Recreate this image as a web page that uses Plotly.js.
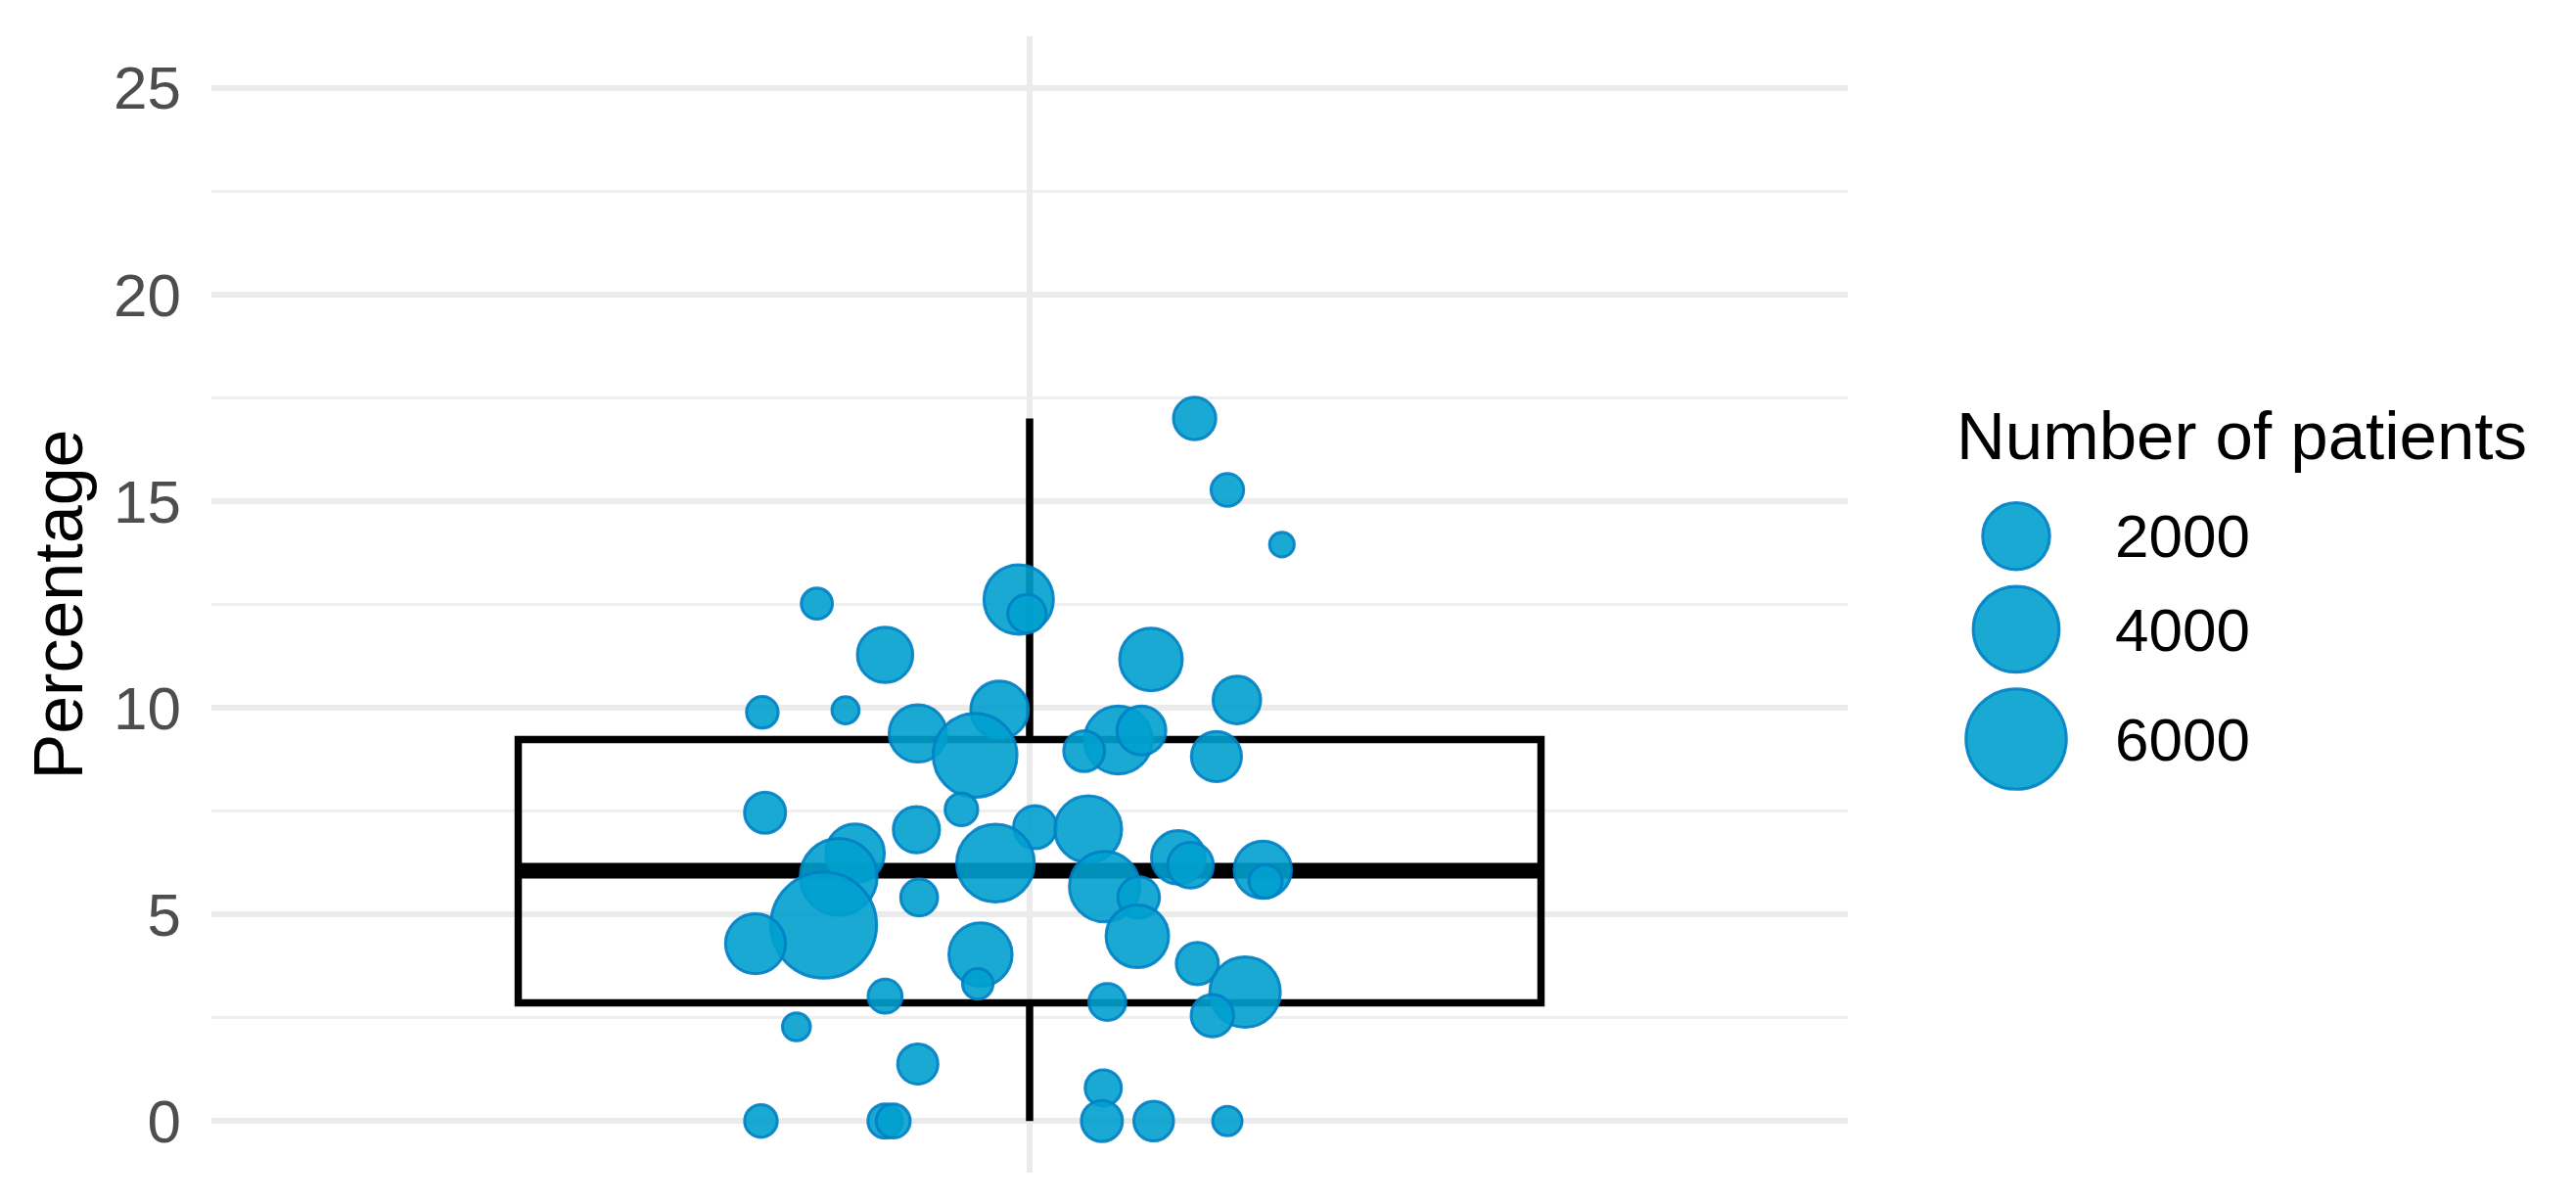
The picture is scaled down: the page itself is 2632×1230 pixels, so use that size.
<!DOCTYPE html>
<html>
<head>
<meta charset="utf-8">
<script src="https://cdn.plot.ly/plotly-3.0.1.min.js"></script>
<style>
  html, body { margin: 0; padding: 0; background: #fff; }
  #chart { width: 2632px; height: 1230px; }
</style>
</head>
<body>
<div id="chart"></div>
<script>
// jittered x position of each study (category sits at x = 1)
var jitterX = [1.121, 1.145, 1.185, 0.844, 0.992, 0.998, 0.894, 1.089, 0.804, 0.865,
               0.978, 1.152, 0.918, 0.960, 1.065, 1.082, 1.040, 1.137, 0.806, 0.950,
               0.917, 1.004, 1.043, 0.872, 0.860, 0.975, 1.109, 1.118, 1.171, 1.173,
               0.919, 1.055, 1.080, 0.849, 0.799, 0.964, 1.079, 1.123, 0.962, 0.894,
               1.158, 1.134, 1.057, 0.829, 0.918, 1.054, 0.803, 0.894, 0.900, 1.053,
               1.091, 1.145];
// percentage per study
var pct = [17.0, 15.27, 13.95, 12.52, 12.62, 12.28, 11.28, 11.17, 9.89, 9.94,
           9.95, 10.19, 9.38, 8.85, 9.22, 9.45, 8.95, 8.82, 7.46, 7.54,
           7.05, 7.11, 7.06, 6.48, 5.91, 6.24, 6.38, 6.19, 6.08, 5.80,
           5.41, 5.67, 5.41, 4.74, 4.29, 4.03, 4.47, 3.81, 3.32, 3.02,
           3.12, 2.55, 2.88, 2.28, 1.38, 0.80, 0, 0, 0, 0,
           0, 0];
// number of patients per study
var patients = [420, 120, 10, 90, 2220, 270, 1110, 1630, 100, 30,
                1260, 660, 1240, 3750, 2070, 720, 360, 790, 370, 120,
                590, 450, 1980, 1330, 2970, 3040, 990, 560, 1240, 130,
                230, 2310, 390, 6850, 1430, 1680, 1630, 410, 80, 150,
                2310, 420, 230, 40, 340, 210, 120, 160, 150, 370,
                320, 60];

// box summary
var boxLow = 0, boxQ1 = 2.86, boxMedian = 6.06, boxQ3 = 9.23, boxHigh = 17;

// legend
var legendVals = [2000, 4000, 6000];
var legendLabels = ['2000', '4000', '6000'];

var yTicks = [0, 5, 10, 15, 20, 25];

var FONT = 'Liberation Sans, Arial, Helvetica, sans-serif';
var fillCol = 'rgba(0,160,206,0.9)';
var edgeCol = 'rgba(0,128,196,0.9)';
var markerLine = 3;
var boxWidth = 0.75;

// ggplot-like size scale: outer diameter grows with sqrt(n)
function sizeFor(n){
	return 25 + 1.04*Math.sqrt(n) - markerLine;
}

// page geometry (px)
var W = 2632, H = 1230;
var mL = 216, mR = 40, mT = 37, mB = 32;
var paperW = W - mL - mR, paperH = H - mT - mB;
var plotRight = 1888;
function fx(px){ return (px - mL)/paperW; }
function fy(py){ return (H - mB - py)/paperH; }

// legend key stacking (ggplot keys grow with symbol size)
var keyGap = 14;
var keyCenters = [];
var acc = 0;
legendVals.forEach(function(v){
	var h = sizeFor(v) + markerLine + keyGap;
	keyCenters.push(acc + h/2);
	acc += h;
});
var keySpan = acc;
var keyTop = 505;

var boxTrace = {
	type: 'box',
	x: [1],
	q1: [boxQ1], median: [boxMedian], q3: [boxQ3],
	lowerfence: [boxLow], upperfence: [boxHigh],
	width: boxWidth,
	whiskerwidth: 0,
	boxpoints: false,
	fillcolor: 'rgba(0,0,0,0)',
	line: {color: '#000', width: 7.5},
	hoverinfo: 'skip',
	showlegend: false
};

var medianTrace = {
	type: 'scatter', mode: 'lines',
	x: [1 - boxWidth/2, 1 + boxWidth/2],
	y: [boxMedian, boxMedian],
	line: {color: '#000', width: 16},
	hoverinfo: 'skip',
	showlegend: false
};

var pointTrace = {
	type: 'scatter', mode: 'markers',
	x: jitterX, y: pct,
	marker: {
		size: patients.map(sizeFor),
		opacity: 1,
		color: fillCol,
		line: {color: edgeCol, width: markerLine}
	},
	cliponaxis: false,
	hoverinfo: 'skip',
	showlegend: false
};

var legendTrace = {
	type: 'scatter', mode: 'markers',
	xaxis: 'x2', yaxis: 'y2',
	x: legendVals.map(function(){ return 0; }),
	y: keyCenters,
	marker: {
		size: legendVals.map(sizeFor),
		opacity: 1,
		color: fillCol,
		line: {color: edgeCol, width: markerLine}
	},
	cliponaxis: false,
	hoverinfo: 'skip',
	showlegend: false
};

var layout = {
	width: W, height: H,
	margin: {l: mL, r: mR, t: mT, b: mB},
	paper_bgcolor: '#fff',
	plot_bgcolor: '#fff',
	showlegend: false,
	font: {family: FONT, color: '#000'},
	xaxis: {
		domain: [0, fx(plotRight)],
		range: [0.4, 1.6],
		tickvals: [1],
		showticklabels: false,
		ticks: '',
		showgrid: true, gridcolor: '#EBEBEB', gridwidth: 5.5,
		zeroline: false, showline: false
	},
	yaxis: {
		range: [-1.25, 26.25],
		tickvals: yTicks,
		ticktext: yTicks.map(String),
		ticks: '',
		ticklabelstandoff: 30,
		tickfont: {family: FONT, size: 62, color: '#4D4D4D'},
		showgrid: true, gridcolor: '#EBEBEB', gridwidth: 5.5,
		minor: {tick0: 0, dtick: 2.5, showgrid: true, gridcolor: '#EFEFEF', gridwidth: 3},
		zeroline: false, showline: false
	},
	xaxis2: {
		domain: [fx(1970), fx(2150)],
		range: [-1, 1],
		anchor: 'y2',
		visible: false
	},
	yaxis2: {
		domain: [fy(keyTop + keySpan), fy(keyTop)],
		range: [keySpan, 0],
		anchor: 'x2',
		side: 'right',
		tickvals: keyCenters,
		ticktext: legendLabels,
		ticks: '',
		ticklabelstandoff: 10,
		tickfont: {family: FONT, size: 62, color: '#000'},
		showgrid: false, zeroline: false, showline: false
	},
	annotations: [
		{
			text: 'Percentage',
			xref: 'paper', yref: 'paper',
			x: fx(59), y: 0.5,
			xanchor: 'center', yanchor: 'middle',
			textangle: -90,
			showarrow: false,
			font: {family: FONT, size: 70, color: '#000'}
		},
		{
			text: 'Number of patients',
			xref: 'paper', yref: 'paper',
			x: fx(1997), y: fy(445),
			xanchor: 'left', yanchor: 'middle',
			showarrow: false,
			font: {family: FONT, size: 69, color: '#000'}
		}
	]
};

Plotly.newPlot('chart', [boxTrace, medianTrace, pointTrace, legendTrace], layout, {displayModeBar: false, staticPlot: true});
</script>
</body>
</html>
